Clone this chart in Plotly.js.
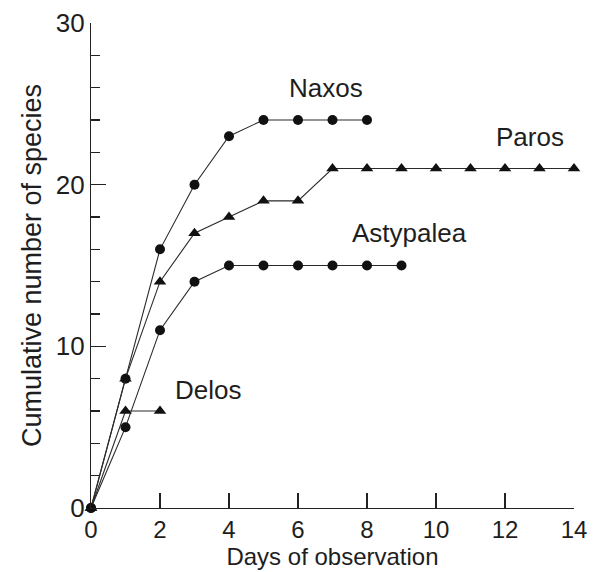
<!DOCTYPE html>
<html>
<head>
<meta charset="utf-8">
<script src="https://cdn.plot.ly/plotly-3.0.1.min.js"></script>
<style>html,body{margin:0;padding:0;background:#fff;}#chart{width:595px;height:572px;}</style>
</head>
<body>
<div id="chart"></div>
<script>
const naxosDays = [0, 1, 2, 3, 4, 5, 6, 7, 8];
const naxosSpecies = [0, 8, 16, 20, 23, 24, 24, 24, 24];
const parosDays = [0, 1, 2, 3, 4, 5, 6, 7, 8, 9, 10, 11, 12, 13, 14];
const parosSpecies = [0, 8, 14, 17, 18, 19, 19, 21, 21, 21, 21, 21, 21, 21, 21];
const astypaleaDays = [0, 1, 2, 3, 4, 5, 6, 7, 8, 9];
const astypaleaSpecies = [0, 5, 11, 14, 15, 15, 15, 15, 15, 15];
const delosDays = [0, 1, 2];
const delosSpecies = [0, 6, 6];

const islandNames = ['Naxos', 'Paros', 'Astypalea', 'Delos'];
const labelX = [6.80, 12.71, 9.23, 3.38];
const labelY = [25.96, 22.96, 16.99, 7.27];

const lineStyle = {color: '#2a2a2a', width: 1.1};
const textColor = '#1e1e1e';
const font = 'Liberation Sans, Arial, sans-serif';

function tr(x, y, sym) {
  return {
    x: x, y: y, type: 'scatter', mode: 'lines+markers',
    line: lineStyle,
    marker: {symbol: sym, size: sym === 'circle' ? 10 : 11, color: '#111'},
    cliponaxis: false, showlegend: false, hoverinfo: 'skip'
  };
}

const data = [
  tr(naxosDays, naxosSpecies, 'circle'),
  tr(parosDays, parosSpecies, 'triangle-up'),
  tr(astypaleaDays, astypaleaSpecies, 'circle'),
  tr(delosDays, delosSpecies, 'triangle-up')
];

const annotations = islandNames.map((n, i) => ({
  x: labelX[i], y: labelY[i], xref: 'x', yref: 'y', text: n, showarrow: false,
  font: {family: font, size: 26, color: textColor}
}));

const layout = {
  width: 595, height: 572,
  margin: {l: 91, r: 21, t: 23, b: 64},
  paper_bgcolor: '#fff', plot_bgcolor: '#fff',
  font: {family: font, size: 24, color: textColor},
  xaxis: {
    range: [0, 14], dtick: 2, tick0: 0, ticks: 'inside', ticklen: 15, tickwidth: 1.2,
    tickcolor: '#222', showline: true, linecolor: '#222', linewidth: 1.2,
    showgrid: false, zeroline: false, fixedrange: true,
    tickfont: {size: 24, family: font, color: textColor},
    title: {text: 'Days of observation', font: {size: 24, family: font, color: textColor}, standoff: 0}
  },
  yaxis: {
    range: [0, 30], dtick: 10, tick0: 0, ticks: 'inside', ticklen: 15, tickwidth: 1.2,
    tickcolor: '#222', showline: true, linecolor: '#222', linewidth: 1.2,
    showgrid: false, zeroline: false, fixedrange: true,
    minor: {dtick: 2, ticks: 'inside', ticklen: 9, tickwidth: 1.2, tickcolor: '#222', showgrid: false},
    tickfont: {size: 26, family: font, color: textColor},
    title: {text: 'Cumulative number of species', font: {size: 27, family: font, color: textColor}, standoff: 6}
  },
  annotations: annotations
};

Plotly.newPlot('chart', data, layout, {displayModeBar: false, staticPlot: true});
</script>
</body>
</html>
